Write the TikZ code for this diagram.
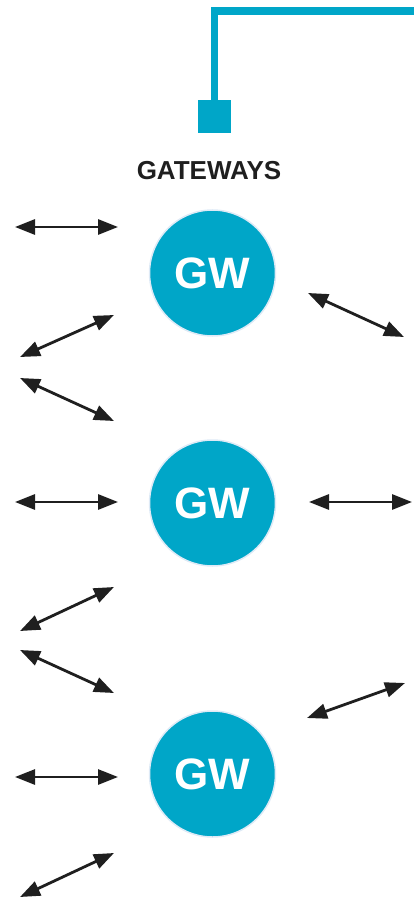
\documentclass[tikz,border=0pt]{standalone}
\usepackage{fontspec}
\setmainfont{Liberation Sans}
\usetikzlibrary{positioning,arrows.meta}
\definecolor{gwblue}{RGB}{0,166,200}
\definecolor{gwrim}{RGB}{222,234,246}
\tikzset{
	>={Triangle[length=20pt,width=15pt]}
}

\begin{document}
\begin{tikzpicture}[
x = 1pt,
y = -1pt,
every node/.style = {
	font = \bfseries
},
gateway/.style = {
	circle,
	draw = gwrim,
	line width = 1.5pt,
	fill = gwblue,
	text = white,
	minimum size = 126pt,
	font = \bfseries\fontsize{44}{44}\selectfont
},
port/.style = {
	fill = gwblue,
	minimum size = 33pt,
	inner sep = 0pt,
	outer sep = 0pt
},
link/.style = {
	<->,
	line width = 2.8pt,
	draw = black!88
},
trunk/.style = {
	draw = gwblue,
	line width = 7.5pt
}
]

\useasboundingbox (0,0) rectangle (414,901);

\node (port) [port] at (214.5,116.5) {};
\coordinate (feed) at (414,11);
\draw[trunk] (port.north) |- (feed);

\node (title) [font=\bfseries\fontsize{26}{26}\selectfont, text=black!88] at (209,171) {GATEWAYS};

\node (gw1) [gateway] at (212.5,273) {GW};
\node (gw2) [gateway] at (212.5,503) {GW};
\node (gw3) [gateway] at (212.5,774) {GW};

\coordinate (w1) at (15,227);
\coordinate (e1) at (118,227);
\coordinate (w2) at (20,357);
\coordinate (e2) at (114,315);
\coordinate (w3) at (20,378);
\coordinate (e3) at (114,421);
\coordinate (w4) at (308,293);
\coordinate (e4) at (404,337);

\coordinate (w5) at (15,502);
\coordinate (e5) at (118,502);
\coordinate (w6) at (309,502);
\coordinate (e6) at (412,502);
\coordinate (w7) at (20,631);
\coordinate (e7) at (114,587);
\coordinate (w8) at (20,650);
\coordinate (e8) at (114,693);
\coordinate (w9) at (307,718);
\coordinate (e9) at (405,683);

\coordinate (w10) at (15,777);
\coordinate (e10) at (118,777);
\coordinate (w11) at (20,897);
\coordinate (e11) at (114,853);

\draw[link] (w1) -- (e1);
\draw[link] (w2) -- (e2);
\draw[link] (w3) -- (e3);
\draw[link] (w4) -- (e4);
\draw[link] (w5) -- (e5);
\draw[link] (w6) -- (e6);
\draw[link] (w7) -- (e7);
\draw[link] (w8) -- (e8);
\draw[link] (w9) -- (e9);
\draw[link] (w10) -- (e10);
\draw[link] (w11) -- (e11);

\end{tikzpicture}
\end{document}
